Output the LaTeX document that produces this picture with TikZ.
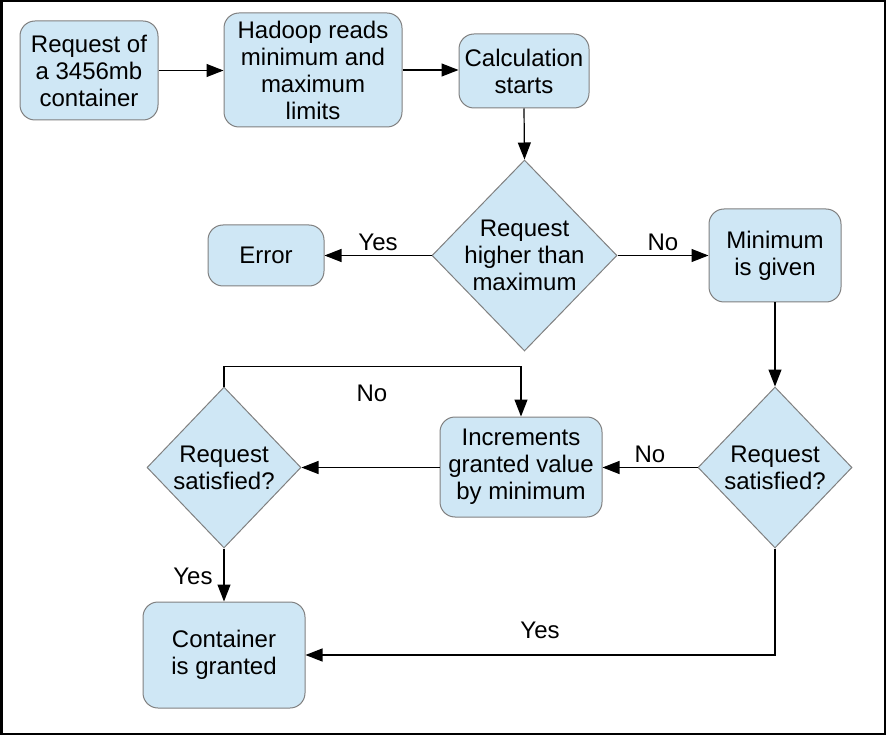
\documentclass[tikz,border=0pt]{standalone}
\usepackage{fontspec}
\setmainfont{Liberation Sans}
\usetikzlibrary{arrows.meta,shapes.geometric}
\definecolor{boxfill}{HTML}{CFE7F5}
\definecolor{boxline}{HTML}{808080}
\begin{document}
\begin{tikzpicture}[x=1pt,y=-1pt,
  every node/.style={font=\fontsize{24}{27}\selectfont},
  proc/.style={draw=boxline, fill=boxfill, rounded corners=15pt, align=center, inner sep=0pt, line width=1pt},
  diam/.style={diamond, draw=boxline, fill=boxfill, inner sep=0pt, line width=1pt},
  txt/.style={align=center, inner sep=0pt},
  lbl/.style={inner sep=0pt},
  conn/.style={line width=1.2pt, -{Triangle[length=17pt,width=13pt]}},
  wire/.style={line width=1.2pt}
]
\useasboundingbox (0,0) rectangle (886,735);
\draw[line width=2.5pt] (1.25,1.25) rectangle (884.75,733.75);

\node[proc, minimum width=138pt, minimum height=99pt] (req) at (89,70.5) {Request of\\a 3456mb\\container};
\node[proc, minimum width=178pt, minimum height=114pt] (had) at (313,70) {Hadoop reads\\minimum and\\maximum\\limits};
\node[proc, minimum width=130pt, minimum height=74pt] (calc) at (524,71) {Calculation\\starts};
\node[diam, minimum width=185pt, minimum height=191pt] (d1) at (524.5,255.5) {};
\node[txt] (d1t) at (d1.center) {Request\\higher than\\maximum};
\node[proc, minimum width=116pt, minimum height=61pt] (err) at (266,255.5) {Error};
\node[proc, minimum width=132pt, minimum height=93pt] (min) at (775,255.5) {Minimum\\is given};
\node[diam, minimum width=154pt, minimum height=161pt] (d2) at (775,467.5) {};
\node[txt] (d2t) at (d2.center) {Request\\satisfied?};
\node[proc, minimum width=162pt, minimum height=100pt] (inc) at (521,467) {Increments\\granted value\\by minimum};
\node[diam, minimum width=154pt, minimum height=161pt] (d3) at (224,467.5) {};
\node[txt] (d3t) at (d3.center) {Request\\satisfied?};
\node[proc, minimum width=162pt, minimum height=106pt] (cont) at (224,655) {Container\\is granted};

\draw[conn] (req.east) -- (req.east -| had.west);
\draw[conn] (had.east) -- (had.east -| calc.west);
\draw[conn] (calc.south) -- (d1.north);
\draw[conn] (d1.west) -- (err.east);
\draw[conn] (d1.east) -- (d1.east -| min.west);
\draw[conn] (min.south) -- (d2.north);
\draw[conn] (d2.west) -- (d2.west -| inc.east);
\draw[conn] (inc.west |- d3.east) -- (d3.east);
\draw[conn] (d3.north) -- ++(0,-20) -| (inc.north);
\draw[conn] (d3.south) -- (cont.north);
\draw[conn] (d2.south) |- (cont.east);

\node[lbl] (l1) at (378,242) {Yes};
\node[lbl] (l2) at (663,242) {No};
\node[lbl] (l3) at (650,454) {No};
\node[lbl] (l4) at (372,393) {No};
\node[lbl] (l5) at (193,576) {Yes};
\node[lbl] (l6) at (540,630) {Yes};
\end{tikzpicture}
\end{document}
